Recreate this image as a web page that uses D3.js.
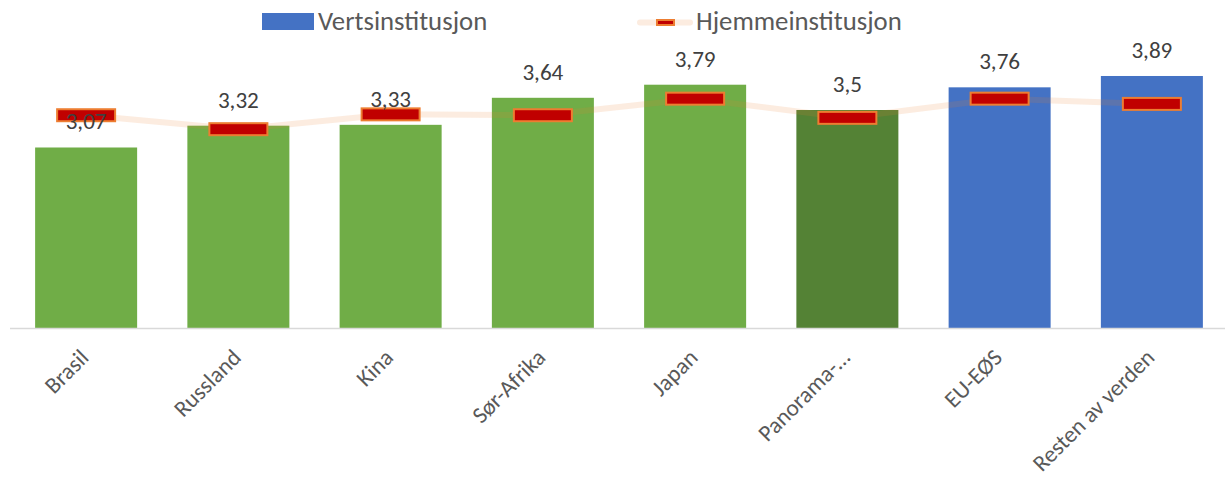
<!DOCTYPE html>
<html><head><meta charset="utf-8">
<script src="https://cdn.jsdelivr.net/npm/d3@7"></script>
<style>body{margin:0;background:#fff;} svg{display:block;font-family:Carlito,Calibri,Lato,"Open Sans",sans-serif;}</style>
</head><body>
<script>
const categories = ["Brasil","Russland","Kina","Sør-Afrika","Japan","Panorama-…","EU-EØS","Resten av verden"];
const vertsValues = [3.07,3.32,3.33,3.64,3.79,3.5,3.76,3.89];
const hjemmeValues = [3.44,3.28,3.45,3.44,3.63,3.41,3.63,3.57];
const barColors = ["#70ad47","#70ad47","#70ad47","#70ad47","#70ad47","#548235","#4472c4","#4472c4"];
const labelTexts = ["3,07","3,32","3,33","3,64","3,79","3,5","3,76","3,89"];
const seriesNames = ["Vertsinstitusjon","Hjemmeinstitusjon"];

const W=1225,H=487;
const svg=d3.select("body").append("svg").attr("width",W).attr("height",H);
const x=d3.scaleBand().domain(categories).range([10,1228]).paddingInner(0.33).paddingOuter(0.165);
const y=d3.scaleLinear().domain([1,4.5]).range([328,22.8]);

svg.append("g").selectAll("rect").data(categories).join("rect")
  .attr("x",d=>x(d)).attr("width",x.bandwidth())
  .attr("y",(d,i)=>y(vertsValues[i])).attr("height",(d,i)=>y(1)-y(vertsValues[i]))
  .attr("fill",(d,i)=>barColors[i]);

svg.append("line").attr("x1",10).attr("x2",1225).attr("y1",328.5).attr("y2",328.5)
  .attr("stroke","#d9d9d9").attr("stroke-width",1.5);

// line
const line=d3.line().x((d,i)=>x(categories[i])+x.bandwidth()/2).y(d=>y(d));
svg.append("path").datum(hjemmeValues).attr("d",line).attr("fill","none")
  .attr("stroke","#ed7d31").attr("stroke-opacity",0.15).attr("stroke-width",6).attr("stroke-linecap","round");

// helper: font size so that a text reaches a target length
function fitSize(txt, target){
  const t=svg.append("text").attr("font-size",20).text(txt);
  const L=t.node().getComputedTextLength(); t.remove();
  return 20*target/L;
}
const valSize=fitSize("3,32",41);
const axSize=(fitSize("Resten av verden",155)+fitSize("Brasil",53))/2;
const legSize=(fitSize(seriesNames[0],170)+fitSize(seriesNames[1],205))/2;

// markers
svg.append("g").selectAll("rect").data(categories).join("rect")
  .attr("x",d=>x(d)+x.bandwidth()/2-29).attr("width",58)
  .attr("y",(d,i)=>y(hjemmeValues[i])-6).attr("height",12)
  .attr("fill","#c00000").attr("stroke","#ed7d31").attr("stroke-width",2);

// value labels
svg.append("g").selectAll("text").data(categories).join("text")
  .attr("x",d=>x(d)+x.bandwidth()/2).attr("y",(d,i)=>y(vertsValues[i])-18)
  .attr("text-anchor","middle").attr("font-size",valSize).attr("fill","#404040")
  .text((d,i)=>labelTexts[i]);

// axis labels
svg.append("g").selectAll("text").data(categories).join("text")
  .attr("transform",d=>`translate(${x(d)+x.bandwidth()/2+4},${359}) rotate(-45)`)
  .attr("text-anchor","end").attr("font-size",axSize).attr("fill","#595959")
  .text(d=>d);

// legend
const lg=svg.append("g");
lg.append("rect").attr("x",262).attr("y",13).attr("width",52).attr("height",17).attr("fill","#4472c4");
lg.append("text").attr("x",318).attr("y",30).attr("font-size",legSize).attr("fill","#595959").text(seriesNames[0]);
lg.append("line").attr("x1",640).attr("x2",690).attr("y1",22.5).attr("y2",22.5)
  .attr("stroke","#ed7d31").attr("stroke-opacity",0.15).attr("stroke-width",6).attr("stroke-linecap","round");
lg.append("rect").attr("x",657).attr("y",20).attr("width",17).attr("height",5)
  .attr("fill","#c00000").attr("stroke","#ed7d31").attr("stroke-width",2);
lg.append("text").attr("x",696).attr("y",30).attr("font-size",legSize).attr("fill","#595959").text(seriesNames[1]);
</script>
</body></html>
